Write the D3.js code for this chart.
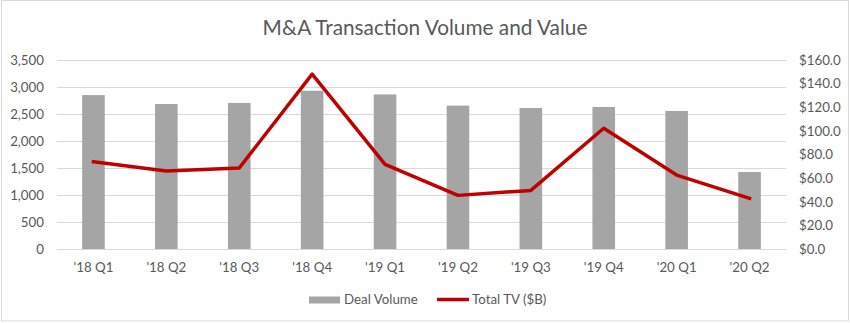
<!DOCTYPE html>
<html>
<head>
<meta charset="utf-8">
<script src="https://cdn.jsdelivr.net/npm/d3@7"></script>
<style>
  html, body { margin: 0; padding: 0; background: #fff; }
  svg { display: block; }
  text { font-family: Lato, "Open Sans", sans-serif; fill: #595959; }
</style>
</head>
<body>
<svg id="chart" width="850" height="323"></svg>
<script>
const categories = ["'18 Q1", "'18 Q2", "'18 Q3", "'18 Q4", "'19 Q1", "'19 Q2", "'19 Q3", "'19 Q4", "'20 Q1", "'20 Q2"];
const dealVolume = [2850, 2685, 2705, 2930, 2862, 2655, 2612, 2630, 2556, 1426];
const totalTV = [73.9, 66.0, 68.6, 148.0, 71.7, 45.4, 49.6, 102.2, 62.6, 42.9];
const leftTicks = [0, 500, 1000, 1500, 2000, 2500, 3000, 3500];
const rightTicks = [0, 20, 40, 60, 80, 100, 120, 140, 160];
const title = "M&A Transaction Volume and Value";
const seriesNames = ["Deal Volume", "Total TV ($B)"];

const FONT = 'Lato, "Open Sans", sans-serif';
const LABEL_SIZE = 13.3;

const svg = d3.select("#chart");
const W = 850, H = 323;
const plot = { left: 57, right: 786, top: 60, bottom: 249 };

// chart border
svg.append("rect")
  .attr("x", 1.5).attr("y", 0.5).attr("width", W - 3).attr("height", H - 2.5)
  .attr("fill", "#fff").attr("stroke", "#D9D9D9").attr("stroke-width", 1);

const x = d3.scaleBand().domain(categories).range([plot.left, plot.right]).paddingInner(0.69).paddingOuter(0.345);
const yL = d3.scaleLinear().domain([0, 3500]).range([plot.bottom, plot.top]);
const yR = d3.scaleLinear().domain([0, 160]).range([plot.bottom, plot.top]);

// gridlines
svg.append("g").selectAll("line").data(leftTicks).join("line")
  .attr("x1", plot.left).attr("x2", plot.right)
  .attr("y1", d => Math.round(yL(d)) + 0.5).attr("y2", d => Math.round(yL(d)) + 0.5)
  .attr("stroke", "#D9D9D9").attr("stroke-width", 1);

// bars
svg.append("g").selectAll("rect").data(dealVolume).join("rect")
  .attr("x", (d, i) => x(categories[i]))
  .attr("width", x.bandwidth())
  .attr("y", d => yL(d))
  .attr("height", d => yL(0) - yL(d))
  .attr("fill", "#A5A5A5");

// x axis baseline
svg.append("line")
  .attr("x1", plot.left).attr("x2", plot.right)
  .attr("y1", plot.bottom + 0.5).attr("y2", plot.bottom + 0.5)
  .attr("stroke", "#D9D9D9").attr("stroke-width", 1);

// line
const line = d3.line()
  .x((d, i) => x(categories[i]) + x.bandwidth() / 2)
  .y(d => yR(d));
svg.append("path").datum(totalTV)
  .attr("d", line)
  .attr("fill", "none").attr("stroke", "#C00000").attr("stroke-width", 3.5)
  .attr("stroke-linejoin", "round").attr("stroke-linecap", "square");

function styleText(g) {
  g.selectAll("text").attr("font-size", LABEL_SIZE).attr("fill", "#595959").style("font-family", FONT);
}

// left axis
const leftAxis = d3.axisLeft(yL).tickValues(leftTicks).tickSize(0).tickPadding(0).tickFormat(d3.format(","));
const gL = svg.append("g").attr("transform", `translate(44,0)`).call(leftAxis);
gL.select(".domain").remove();
styleText(gL);

// right axis
const rightAxis = d3.axisRight(yR).tickValues(rightTicks).tickSize(0).tickPadding(0).tickFormat(d => "$" + d3.format(".1f")(d));
const gR = svg.append("g").attr("transform", `translate(799,0)`).call(rightAxis);
gR.select(".domain").remove();
styleText(gR);

// bottom axis
const bottomAxis = d3.axisBottom(x).tickSize(0).tickPadding(0);
const gB = svg.append("g").attr("transform", `translate(0,${plot.bottom})`).call(bottomAxis);
gB.select(".domain").remove();
styleText(gB);
gB.selectAll("text").attr("dy", null).attr("y", 23);

// title
svg.append("text").attr("x", 425).attr("y", 34.5).attr("text-anchor", "middle")
  .attr("font-size", 20.8).style("font-family", FONT).text(title);

// legend
const lg = svg.append("g");
lg.append("rect").attr("x", 309).attr("y", 296.5).attr("width", 31).attr("height", 7).attr("fill", "#A5A5A5");
lg.append("text").attr("x", 344).attr("y", 304).attr("font-size", LABEL_SIZE).style("font-family", FONT).text(seriesNames[0]);
lg.append("line").attr("x1", 437).attr("x2", 469).attr("y1", 299.5).attr("y2", 299.5)
  .attr("stroke", "#C00000").attr("stroke-width", 3.5);
lg.append("text").attr("x", 472).attr("y", 304).attr("font-size", LABEL_SIZE).style("font-family", FONT).text(seriesNames[1]);
</script>
</body>
</html>
